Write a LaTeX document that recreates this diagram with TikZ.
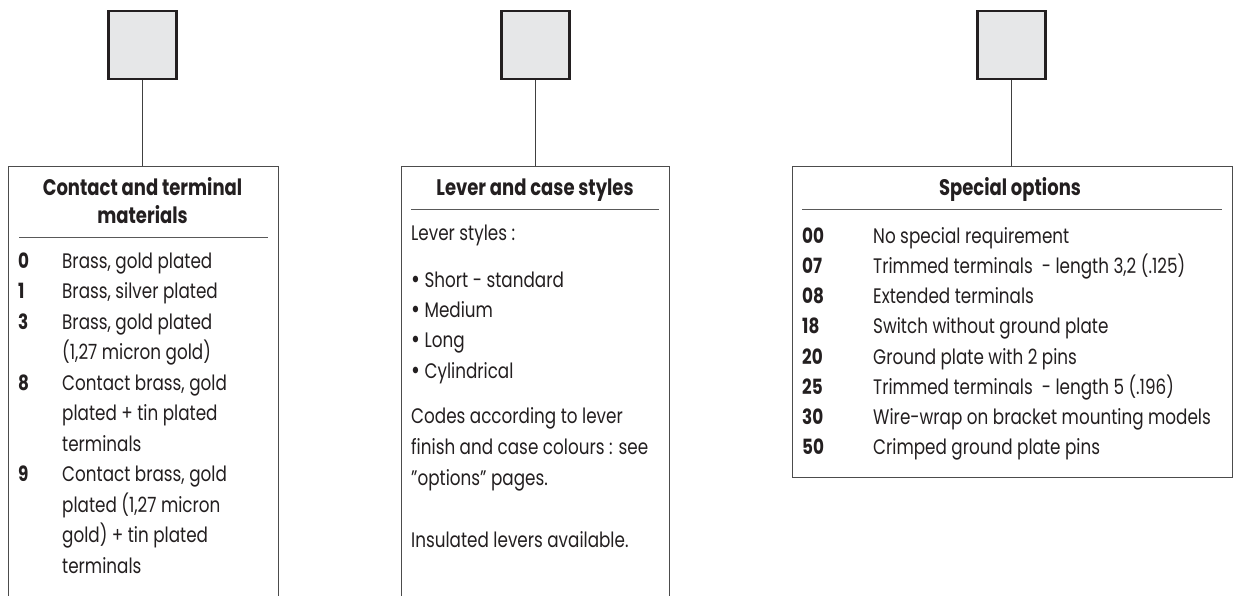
\documentclass[tikz,border=0pt]{standalone}
\usepackage{fontspec}
\setmainfont{Poppins}[Ligatures=ResetAll, FakeStretch=0.8]
\definecolor{txt}{HTML}{231F20}
\definecolor{sqgray}{HTML}{E6E7E8}
\newcommand{\blt}{\raisebox{-1.5pt}{\fontsize{27}{27}\selectfont\textbullet}}
\begin{document}
\begin{tikzpicture}[x=1pt,y=-1pt,
  sq/.style={draw=txt, line width=2.2pt, fill=sqgray, minimum width=68pt, minimum height=68pt, inner sep=0pt},
  panel/.style={draw=black!70, line width=1pt, anchor=north west, inner sep=0pt, rectangle},
  conn/.style={draw=black!75, line width=0.9pt},
  rulel/.style={draw=black!65, line width=0.9pt},
  ttl/.style={font=\bfseries\fontsize{22.5}{26}\selectfont, anchor=base, inner sep=0pt, text=txt},
  bd/.style={font=\fontsize{21}{25}\selectfont, anchor=base west, inner sep=0pt, text=txt},
  num/.style={font=\bfseries\fontsize{21}{25}\selectfont, anchor=base west, inner sep=0pt, text=txt}]
\useasboundingbox (0,0) rectangle (1233,595);
% squares
\node[sq] (s1) at (142.5,45) {};
\node[sq] (s2) at (535.5,45) {};
\node[sq] (s3) at (1011.5,45) {};
% panels
\node[panel, minimum width=270pt, minimum height=460pt] (p1) at (8,166) {};
\node[panel, minimum width=268pt, minimum height=460pt] (p2) at (401,166) {};
\node[panel, minimum width=440pt, minimum height=311pt] (p3) at (792,166) {};
% connectors
\draw[conn] (s1.south) -- (s1.south |- p1.north);
\draw[conn] (s2.south) -- (s2.south |- p2.north);
\draw[conn] (s3.south) -- (s3.south |- p3.north);
% dividers
\draw[rulel] (19,237.5) -- (268,237.5);
\draw[rulel] (411,209) -- (659,209);
\draw[rulel] (802,209) -- (1222,209);
% titles
\node[ttl] (t1a) at (142.5,195) {Contact and terminal};
\node[ttl] (t1b) at (142.5,223) {materials};
\node[ttl] (t2) at (535,195) {Lever and case styles};
\node[ttl] (t3) at (1010,195) {Special options};
% left list
\node[num] (n0) at (18,268) {0};
\node[bd] (a0) at (62,268) {Brass, gold plated};
\node[num] (n1) at (18,298.5) {1};
\node[bd] (a1) at (62,298.5) {Brass, silver plated};
\node[num] (n3) at (18,329) {3};
\node[bd] (a3) at (62,329) {Brass, gold plated};
\node[bd] (a3b) at (62,359.5) {(1,27 micron gold)};
\node[num] (n8) at (18,390) {8};
\node[bd] (a8) at (62,390) {Contact brass, gold};
\node[bd] (a8b) at (62,420.5) {plated + tin plated};
\node[bd] (a8c) at (62,451) {terminals};
\node[num] (n9) at (18,481.5) {9};
\node[bd] (a9) at (62,481.5) {Contact brass, gold};
\node[bd] (a9b) at (62,512) {plated (1,27 micron};
\node[bd] (a9c) at (62,542.5) {gold) + tin plated};
\node[bd] (a9d) at (62,573) {terminals};
% middle text
\node[bd] (m0) at (411,240) {Lever styles :};
\node[bd] (m1) at (411,287) {\blt\ Short - standard};
\node[bd] (m2) at (411,317) {\blt\ Medium};
\node[bd] (m3) at (411,347) {\blt\ Long};
\node[bd] (m4) at (411,378) {\blt\ Cylindrical};
\node[bd] (m5) at (411,423) {Codes according to lever};
\node[bd] (m6) at (411,454) {finish and case colours : see};
\node[bd] (m7) at (411,485) {"options" pages.};
\node[bd] (m8) at (411,547) {Insulated levers available.};
% right list
\node[num] (r0) at (802,243) {00};
\node[bd] (q0) at (873,243) {No special requirement};
\node[num] (r1) at (802,273) {07};
\node[bd] (q1) at (873,273) {Trimmed terminals\ \ - length 3,2 (.125)};
\node[num] (r2) at (802,303.5) {08};
\node[bd] (q2) at (873,303.5) {Extended terminals};
\node[num] (r3) at (802,333.5) {18};
\node[bd] (q3) at (873,333.5) {Switch without ground plate};
\node[num] (r4) at (802,364) {20};
\node[bd] (q4) at (873,364) {Ground plate with 2 pins};
\node[num] (r5) at (802,394) {25};
\node[bd] (q5) at (873,394) {Trimmed terminals\ \ - length 5 (.196)};
\node[num] (r6) at (802,424) {30};
\node[bd] (q6) at (873,424) {Wire-wrap on bracket mounting models};
\node[num] (r7) at (802,454.5) {50};
\node[bd] (q7) at (873,454.5) {Crimped ground plate pins};
\end{tikzpicture}
\end{document}
